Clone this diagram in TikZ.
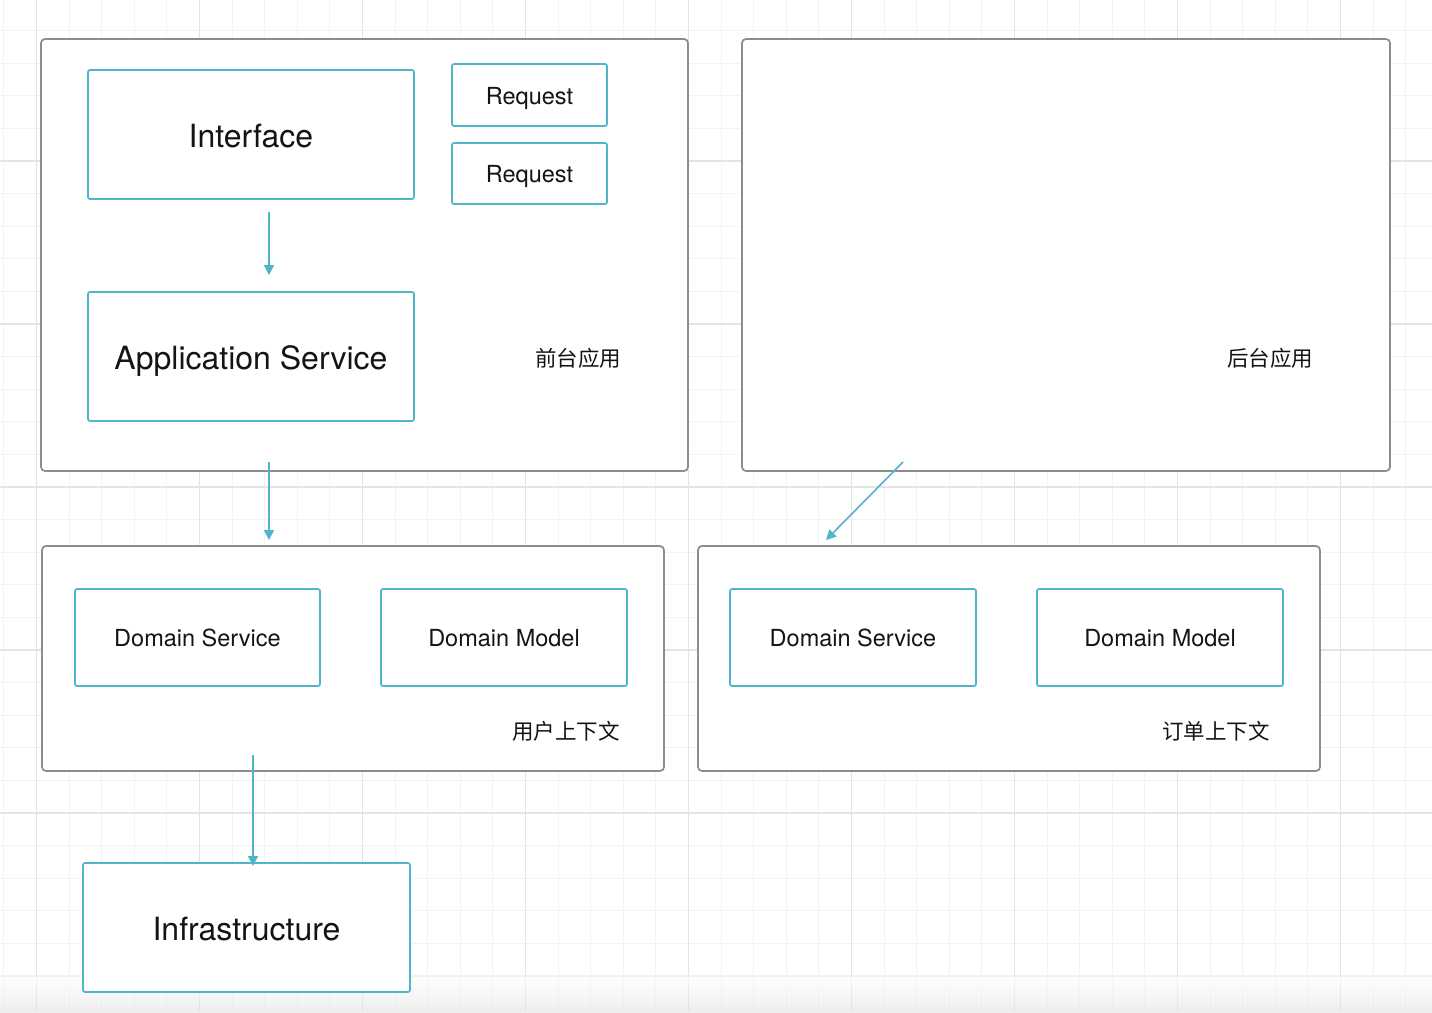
\documentclass[tikz,border=0pt]{standalone}
\usepackage{fontspec}
\setmainfont{TeX Gyre Heros}
\newfontfamily\cjk{Noto Sans CJK SC}
\usetikzlibrary{arrows.meta}
\definecolor{tealline}{RGB}{78,182,200}
\definecolor{framegray}{RGB}{140,140,140}
\definecolor{gridmaj}{RGB}{228,228,228}
\definecolor{gridmin}{RGB}{243,243,243}
\definecolor{txt}{RGB}{20,20,20}
\tikzset{
  container/.style={draw=framegray, line width=1.7pt, fill=white, rounded corners=4pt, inner sep=0pt},
  layerbox/.style={draw=tealline, line width=1.7pt, fill=white, rounded corners=2pt, inner sep=0pt, text=txt, text height=26pt, text depth=0pt, font=\fontsize{32}{38}\selectfont},
  smallbox/.style={draw=tealline, line width=1.7pt, fill=white, rounded corners=2pt, inner sep=0pt, text=txt, text height=18pt, text depth=0pt, font=\fontsize{23.5}{28}\selectfont},
  cjklabel/.style={inner sep=0pt, text=txt, font=\cjk\fontsize{21.5}{24}\selectfont},
  flow/.style={draw=tealline, line width=1.6pt, -{Triangle[length=10pt,width=10pt]}},
  minorgrid/.style={draw=gridmin, line width=1pt},
  majorgrid/.style={draw=gridmaj, line width=1.3pt}
}
\begin{document}
\begin{tikzpicture}[x=1pt, y=-1pt]
\useasboundingbox (0,0) rectangle (1432,1012);
\fill[white] (0,0) rectangle (1432,1012);
% grid
\foreach \k in {-1,...,43} {\draw[minorgrid] ({36.5+32.6*\k},0) -- ({36.5+32.6*\k},1012);}
\foreach \k in {1,...,31} {\draw[minorgrid] (0,{-2+32.6*\k}) -- (1432,{-2+32.6*\k});}
\foreach \k in {0,...,8} {\draw[majorgrid] ({36.5+163*\k},0) -- ({36.5+163*\k},1012);}
\foreach \k in {1,...,6} {\draw[majorgrid] (0,{-2+163*\k}) -- (1432,{-2+163*\k});}
\shade[top color=white, bottom color=black!12, opacity=0.5] (0,975) rectangle (1432,1012);

% containers
\node[container, minimum width=647pt, minimum height=432pt] (front) at (364.5,255) {};
\node[container, minimum width=648pt, minimum height=432pt] (back) at (1066,255) {};
\node[container, minimum width=622pt, minimum height=225pt] (userctx) at (353,658.5) {};
\node[container, minimum width=622pt, minimum height=225pt] (orderctx) at (1009,658.5) {};

% inner boxes
\node[layerbox, minimum width=326pt, minimum height=129pt] (iface) at (251,134.5) {Interface};
\node[smallbox, minimum width=155pt, minimum height=62pt] (req1) at (529.5,95) {Request};
\node[smallbox, minimum width=155pt, minimum height=61pt] (req2) at (529.5,173.5) {Request};
\node[layerbox, minimum width=326pt, minimum height=129pt] (appsvc) at (251,356.5) {Application Service};
\node[smallbox, minimum width=245pt, minimum height=97pt] (ds1) at (197.5,637.5) {Domain Service};
\node[smallbox, minimum width=246pt, minimum height=97pt] (dm1) at (504,637.5) {Domain Model};
\node[smallbox, minimum width=246pt, minimum height=97pt] (ds2) at (853,637.5) {Domain Service};
\node[smallbox, minimum width=246pt, minimum height=97pt] (dm2) at (1160,637.5) {Domain Model};
\node[layerbox, minimum width=327pt, minimum height=129pt] (infra) at (246.5,927.5) {Infrastructure};

% labels
\node[cjklabel] (lfront) at (578,358) {前台应用};
\node[cjklabel] (lback) at (1270,358) {后台应用};
\node[cjklabel] (luser) at (566,731) {用户上下文};
\node[cjklabel] (lorder) at (1216,731) {订单上下文};

% connector end points
\coordinate (a1s) at (269,212);
\coordinate (a1e) at (269,275);
\coordinate (a2s) at (269,462);
\coordinate (a2e) at (269,540);
\coordinate (a3s) at (903,462);
\coordinate (a3e) at (826,540);
\coordinate (a4s) at (253,755);
\coordinate (a4e) at (253,866);

\draw[flow] (a1s) -- (a1e);
\draw[flow] (a2s) -- (a2e);
\draw[flow] (a3s) -- (a3e);
\draw[flow] (a4s) -- (a4e);
\end{tikzpicture}
\end{document}
